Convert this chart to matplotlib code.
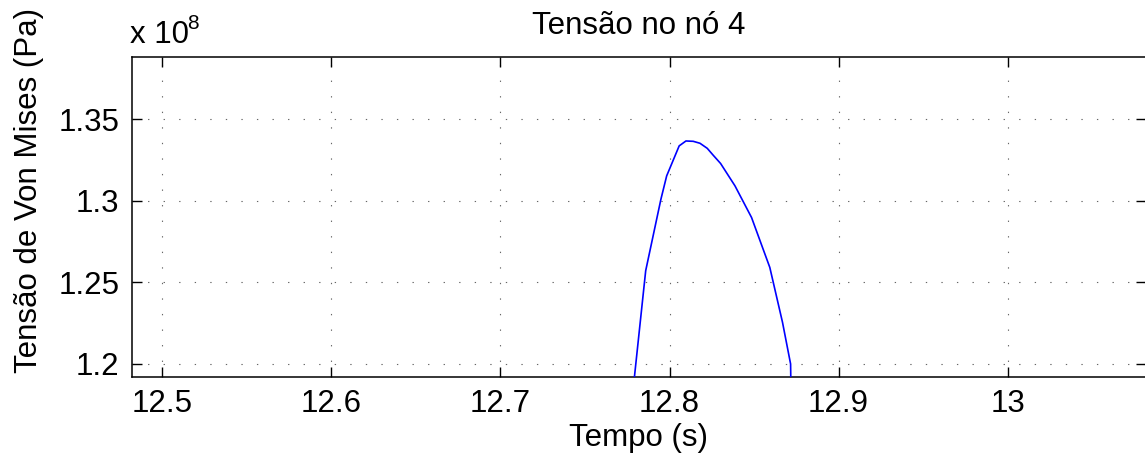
import matplotlib
matplotlib.use("Agg")
import matplotlib.pyplot as plt
import numpy as np

plt.rcParams["font.family"] = ["Liberation Sans", "DejaVu Sans"]

# Von Mises stress at node 4 over time
time_s = [12.7780, 12.7859, 12.7949, 12.7983, 12.8057, 12.8097, 12.8140,
          12.8180, 12.8223, 12.8258, 12.8302, 12.8387, 12.8485, 12.8593,
          12.8668, 12.8716, 12.8718]
stress_pa = [1.180e8, 1.2572e8, 1.3010e8, 1.3153e8, 1.3337e8, 1.3367e8,
             1.3365e8, 1.3353e8, 1.3322e8, 1.3280e8, 1.3229e8, 1.3092e8,
             1.2898e8, 1.2592e8, 1.2256e8, 1.2000e8, 1.1850e8]

x_ticks = [12.5, 12.6, 12.7, 12.8, 12.9, 13.0]
x_tick_labels = ["12.5", "12.6", "12.7", "12.8", "12.9", "13"]
y_ticks = [1.20, 1.25, 1.30, 1.35]
y_tick_labels = ["1.2", "1.25", "1.3", "1.35"]

FS = 22.5
W, H = 1145, 459
fig = plt.figure(figsize=(W / 100, H / 100), dpi=100)
ax = fig.add_axes([131.7 / W, 1 - 376.7 / H, (1146 - 131.7) / W, (376.7 - 57.3) / H])

scale = 1e8
ax.plot(time_s, np.array(stress_pa) / scale, color=(0, 0, 1), lw=1.2,
        solid_joinstyle="round", zorder=3)

ax.set_xlim(12.4819, 13.0818)
ax.set_ylim(1.1922, 1.388)
ax.set_xticks(x_ticks)
ax.set_xticklabels(x_tick_labels)
ax.set_yticks(y_ticks)
ax.set_yticklabels(y_tick_labels)

ax.tick_params(direction="in", length=7, width=1.0, top=True, right=True,
               labelsize=FS, colors="black")
ax.tick_params(axis="x", pad=9)
ax.tick_params(axis="y", pad=9)
for s in ax.spines.values():
    s.set_linewidth(1.1)
    s.set_color("black")

ax.grid(True, color="#666666", linestyle=(0, (1.2, 12.8)), linewidth=0.8)

ax.set_title("Tensão no nó 4", fontsize=FS, pad=17)
ax.set_xlabel("Tempo (s)", fontsize=FS, labelpad=3)
ax.set_ylabel("Tensão de Von Mises (Pa)", fontsize=FS, labelpad=10)
ax.yaxis.label.set_y(0.5845)

# exponent label above the y axis
fig.text(130 / W, 1 - 43 / H, "x 10", fontsize=FS, ha="left", va="baseline")
fig.text(187 / W, 1 - 29 / H, "8", fontsize=15, ha="left", va="baseline")

fig.savefig("out.png", dpi=100)
